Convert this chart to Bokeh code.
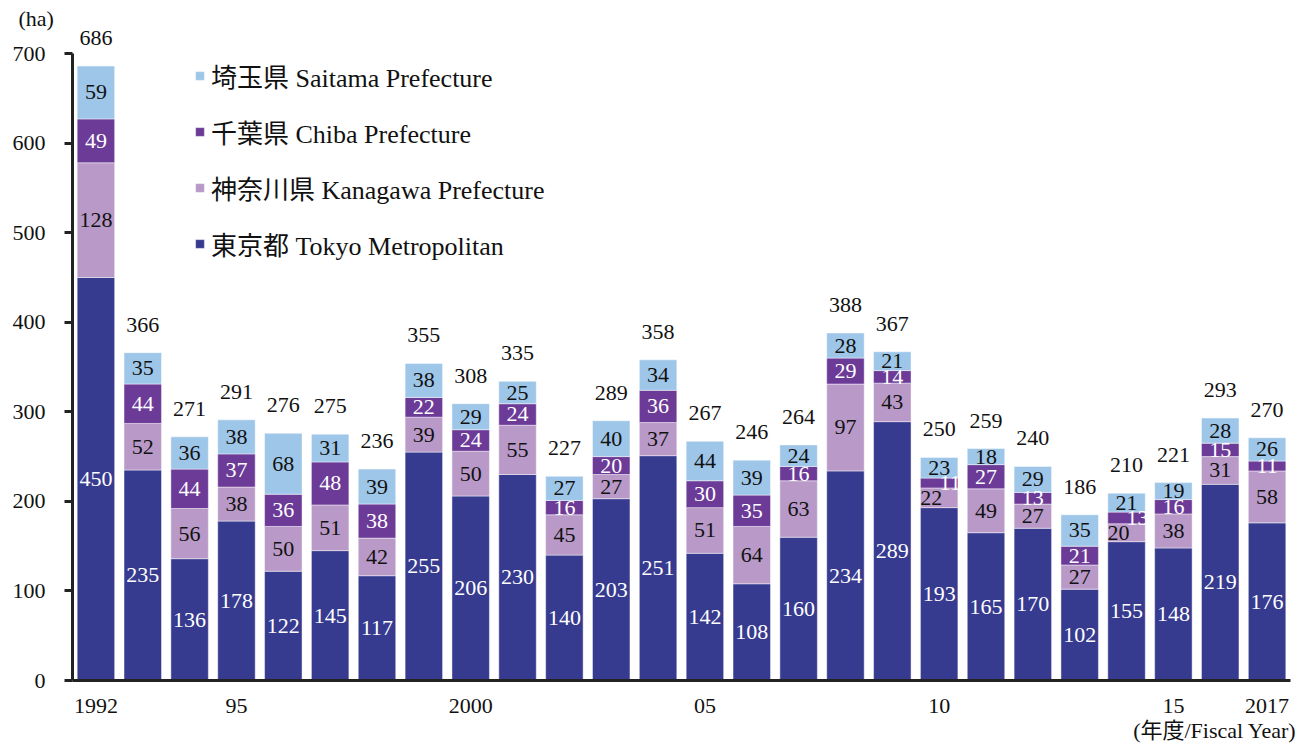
from bokeh.plotting import figure
from bokeh.models import ColumnDataSource, FixedTicker, Legend, LegendItem, Title, Range1d
from bokeh.core.properties import value
from bokeh.embed import file_html
from bokeh.resources import INLINE

years = list(range(1992, 2018))
tokyo = [450, 235, 136, 178, 122, 145, 117, 255, 206, 230, 140, 203, 251, 142, 108, 160, 234, 289, 193, 165, 170, 102, 155, 148, 219, 176]
kanagawa = [128, 52, 56, 38, 50, 51, 42, 39, 50, 55, 45, 27, 37, 51, 64, 63, 97, 43, 22, 49, 27, 27, 20, 38, 31, 58]
chiba = [49, 44, 44, 37, 36, 48, 38, 22, 24, 24, 16, 20, 36, 30, 35, 16, 29, 14, 11, 27, 13, 21, 13, 16, 15, 11]
saitama = [59, 35, 36, 38, 68, 31, 39, 38, 29, 25, 27, 40, 34, 44, 39, 24, 28, 21, 23, 18, 29, 35, 21, 19, 28, 26]
totals = [686, 366, 271, 291, 276, 275, 236, 355, 308, 335, 227, 289, 358, 267, 246, 264, 388, 367, 250, 259, 240, 186, 210, 221, 293, 270]
tick_years = [1992, 1995, 2000, 2005, 2010, 2015, 2017]
tick_labels = ["1992", "95", "2000", "05", "10", "15", "2017"]
series_names = ["東京都 Tokyo Metropolitan", "神奈川県 Kanagawa Prefecture",
                "千葉県 Chiba Prefecture", "埼玉県 Saitama Prefecture"]
colors = ["#373B8F", "#B899C7", "#6C3A97", "#9EC6E8"]
label_colors = ["white", "#111111", "white", "#111111"]

FONT = "'Liberation Serif', 'Noto Sans CJK JP', serif"

p = figure(width=1299, height=745, output_backend="svg", toolbar_location=None,
           x_range=Range1d(1991.5, 2017.5), y_range=Range1d(0, 725.7),
           min_border_left=72, min_border_right=9, min_border_top=30, min_border_bottom=65)
p.outline_line_color = None
p.xgrid.grid_line_color = None
p.ygrid.grid_line_color = None
p.background_fill_color = "white"

keys = ["t", "k", "c", "s"]
src = ColumnDataSource(dict(x=years, t=tokyo, k=kanagawa, c=chiba, s=saitama))
rs = p.vbar_stack(keys, x="x", width=0.8, color=colors, source=src,
                  line_color="white", line_alpha=0.45, line_width=1)

# segment labels
series = [tokyo, kanagawa, chiba, saitama]
bottom = [0] * len(years)
for i, vals in enumerate(series):
    ys, xoffs = [], []
    for j, v in enumerate(vals):
        ys.append(bottom[j] + v / 2)
        off = 0
        if kanagawa[j] < 25 and chiba[j] < 15:
            if i == 1:
                off = -8
            elif i == 2:
                off = 11
        xoffs.append(off)
    lsrc = ColumnDataSource(dict(x=years, y=ys, text=[str(v) for v in vals], xoff=xoffs))
    p.text(x="x", y="y", text="text", x_offset="xoff", source=lsrc,
           text_align="center", text_baseline="middle",
           text_font=value(FONT), text_font_size="22px", text_color=label_colors[i])
    bottom = [b + v for b, v in zip(bottom, vals)]

tsrc = ColumnDataSource(dict(x=years, y=bottom, text=[str(v) for v in totals]))
p.text(x="x", y="y", text="text", source=tsrc, y_offset=-28,
       text_align="center", text_baseline="middle",
       text_font=value(FONT), text_font_size="22px", text_color="#111111")

# axes
p.yaxis.bounds = (0, 700)
p.yaxis.ticker = FixedTicker(ticks=[0, 100, 200, 300, 400, 500, 600, 700])
p.yaxis.minor_tick_line_color = None
p.yaxis.major_tick_in = 0
p.yaxis.major_tick_out = 8
p.yaxis.major_tick_line_width = 3
p.yaxis.axis_line_width = 3
p.yaxis.axis_line_color = "#222222"
p.yaxis.major_tick_line_color = "#222222"
p.yaxis.major_label_standoff = 19
p.yaxis.major_label_text_font = FONT
p.yaxis.major_label_text_font_size = "22px"
p.yaxis.major_label_text_color = "#111111"

p.xaxis.ticker = FixedTicker(ticks=tick_years)
p.xaxis.major_label_overrides = {y: l for y, l in zip(tick_years, tick_labels)}
p.xaxis.minor_tick_line_color = None
p.xaxis.major_tick_line_color = None
p.xaxis.axis_line_width = 3
p.xaxis.axis_line_color = "#222222"
p.xaxis.major_label_standoff = 12
p.xaxis.major_label_text_font = FONT
p.xaxis.major_label_text_font_size = "22px"
p.xaxis.major_label_text_color = "#111111"

# legend
items = [LegendItem(label=series_names[i], renderers=[rs[i]]) for i in reversed(range(4))]
legend = Legend(items=items, location=(122, 418), orientation="vertical",
                background_fill_alpha=0, border_line_color=None,
                label_text_font=FONT, label_text_font_size="26px", label_text_color="#111111",
                glyph_width=11, glyph_height=11, label_height=30, spacing=19,
                padding=0, margin=0, label_standoff=6)
p.add_layout(legend)

p.add_layout(Title(text="(ha)", align="left", offset=-54, standoff=0,
                   text_font=FONT, text_font_size="22px", text_font_style="normal",
                   text_color="#111111"), "above")
p.add_layout(Title(text="(年度/Fiscal Year)", align="right", offset=-6, standoff=0,
                   text_font=FONT, text_font_size="22px", text_font_style="normal",
                   text_color="#111111"), "below")

open("out.html", "w").write(file_html(p, INLINE))
